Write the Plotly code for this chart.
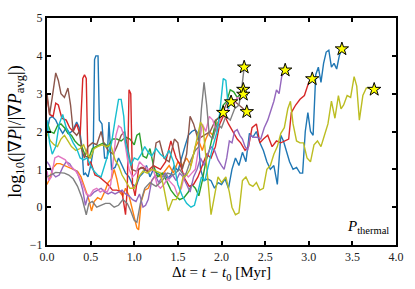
import plotly.graph_objects as go

# ---- data ----
t_blue = [0, .03, .06, .1, .14, .18, .22, .26, .3, .34, .37, .4, .42, .44, .47, .5, .53, .545, .56, .585, .6, .63, .66, .69, .71, .74, .78, .82, .86, .9, .94, .98, 1.02, 1.06, 1.1, 1.14, 1.18, 1.22, 1.26, 1.3, 1.34, 1.38, 1.42, 1.46, 1.5, 1.54, 1.58, 1.62, 1.66, 1.7, 1.73, 1.76, 1.8, 1.84, 1.88, 1.92, 1.96, 2.0, 2.04, 2.08, 2.12, 2.16, 2.2, 2.24, 2.28, 2.32, 2.36, 2.4, 2.44, 2.48, 2.52, 2.56, 2.6, 2.64, 2.68, 2.71, 2.74, 2.78, 2.82, 2.86, 2.9, 2.93, 2.96, 2.99, 3.02, 3.05, 3.08, 3.11, 3.14, 3.17, 3.2, 3.23, 3.26, 3.29, 3.32, 3.35, 3.38]
y_blue = [2.0, 2.35, 2.4, 2.3, 2.1, 1.95, 2.1, 1.95, 2.05, 2.25, 2.1, 1.6, 0.85, 0.9, 0.8, 1.1, 1.5, 3.9, 4.0, 4.0, 2.3, 2.2, 1.3, 1.3, 2.25, 1.0, 1.05, 1.3, 1.1, 0.9, 0.8, 0.6, 0.55, 0.8, 0.9, 1.1, 0.8, 1.0, 0.9, 0.85, 0.9, 0.75, 0.85, 1.1, 0.95, 1.3, 1.6, 1.9, 2.0, 2.05, 1.95, 1.0, 0.7, 0.75, 0.7, 0.5, 0.65, 0.6, 0.75, 0.5, 1.0, 1.3, 1.1, 1.45, 1.2, 1.95, 1.85, 2.0, 1.7, 1.5, 1.2, 1.0, 1.1, 0.6, 1.9, 1.75, 1.5, 1.2, 1.0, 1.05, 0.9, 0.9, 2.0, 2.5, 2.0, 1.9, 3.5, 3.7, 3.3, 3.8, 4.1, 4.15, 3.7, 3.8, 3.65, 4.0, 4.18]

t_orange = [0, .03, .07, .11, .15, .2, .25, .3, .35, .39, .42, .45, .48, .51, .54, .58, .62, .66, .7, .74, .77, .8, .83, .87, .9, .94, .97, 1.0, 1.03, 1.05, 1.08, 1.12, 1.16, 1.2, 1.25, 1.3, 1.35, 1.4, 1.45, 1.5, 1.55, 1.6, 1.65, 1.7, 1.74, 1.78, 1.82, 1.86, 1.9, 1.94, 1.98, 2.02]
y_orange = [0.6, 0.75, 1.05, 1.15, 1.15, 1.1, 1.05, 1.0, 0.95, 0.8, 0.6, 0.4, 0.2, -0.1, 0.15, 0.25, 0.2, 0.4, 0.65, 0.75, 1.0, 0.75, 0.4, 0.3, 0.5, 0.3, 0.0, -0.3, -0.55, -0.6, 0.15, 0.45, 0.5, 0.7, 0.85, 0.8, 0.95, 1.1, 0.9, 1.2, 1.1, 1.3, 1.1, 1.6, 1.75, 1.5, 1.8, 2.0, 1.9, 2.2, 2.3, 2.5]

t_green = [0, .04, .08, .12, .16, .2, .24, .28, .32, .36, .4, .44, .48, .52, .56, .6, .65, .7, .75, .8, .85, .9, .95, 1.0, 1.03, 1.06, 1.1, 1.14, 1.18, 1.22, 1.27, 1.32, 1.37, 1.42, 1.47, 1.52, 1.57, 1.62, 1.66, 1.7, 1.74, 1.78, 1.82, 1.86, 1.9, 1.94, 1.98, 2.02, 2.06, 2.1, 2.14, 2.18, 2.22, 2.25]
y_green = [2.25, 2.0, 1.95, 2.15, 2.2, 2.1, 1.95, 1.9, 1.75, 1.65, 1.6, 1.35, 1.3, 1.55, 1.6, 1.65, 1.7, 1.6, 1.8, 1.8, 1.75, 1.85, 1.8, 1.65, 1.9, 1.95, 1.35, 1.3, 1.55, 1.1, 0.8, 0.9, 0.7, 0.45, 0.3, 0.2, 0.25, 0.4, 0.6, 0.5, 0.3, 0.7, 1.2, 1.5, 1.9, 2.3, 2.4, 2.7, 2.8, 3.1, 3.05, 2.9, 3.0, 3.11]

t_red = [0, .03, .07, .1, .13, .17, .22, .26, .3, .34, .38, .41, .43, .45, .47, .5, .55, .6, .65, .7, .75, .8, .86, .9, .92, .94, .96, .98, 1.01, 1.05, 1.1, 1.15, 1.22, 1.3, 1.36, 1.42, 1.48, 1.53, 1.58, 1.63, 1.68, 1.73, 1.78, 1.83, 1.88, 1.93, 1.98, 2.03, 2.08, 2.13, 2.18, 2.22, 2.27, 2.31, 2.35, 2.4, 2.44, 2.48, 2.53, 2.58, 2.63, 2.68, 2.73, 2.77, 2.8, 2.85, 2.9, 2.95, 3.0, 3.04]
y_red = [2.9, 2.45, 2.4, 2.75, 2.7, 2.35, 2.3, 2.1, 2.0, 2.2, 1.9, 3.4, 3.5, 3.4, 1.1, 1.2, 0.85, 0.8, 0.7, 0.6, 0.45, 0.45, 0.4, -0.2, 0.5, 3.1, 3.0, 0.6, 0.3, 1.0, 1.05, 0.95, 1.1, 1.0, 1.2, 1.75, 1.3, 1.1, 0.75, 0.55, 0.6, 0.8, 1.1, 1.4, 1.3, 1.6, 2.2, 2.45, 2.2, 2.0, 1.8, 1.7, 1.5, 1.6, 2.1, 2.2, 1.7, 1.8, 1.9, 1.6, 1.75, 1.7, 1.75, 1.8, 2.5, 2.7, 2.85, 2.95, 3.3, 3.39]

t_purple = [0, .03, .06, .1, .14, .18, .22, .26, .3, .34, .38, .41, .44, .47, .5, .54, .58, .62, .66, .7, .74, .78, .82, .86, .9, .94, .98, 1.02, 1.06, 1.1, 1.13, 1.16, 1.2, 1.24, 1.28, 1.32, 1.36, 1.4, 1.44, 1.48, 1.52, 1.56, 1.6, 1.64, 1.68, 1.72, 1.76, 1.8, 1.84, 1.88, 1.92, 1.96, 2.0, 2.03, 2.06, 2.09, 2.12, 2.15, 2.18, 2.21, 2.24, 2.27, 2.3, 2.33, 2.37, 2.41, 2.45, 2.49, 2.53, 2.57, 2.6, 2.63, 2.66, 2.69, 2.73]
y_purple = [1.2, 1.1, 0.9, 0.8, 0.85, 1.05, 1.2, 1.15, 1.0, 0.95, 0.7, 0.45, 0.05, 0.3, 0.3, 0.4, 0.45, 0.5, 0.4, 0.35, 0.4, 0.35, 0.4, 0.45, 0.35, 0.3, 0.2, 0.15, 0.35, 0.0, 0.05, 0.2, 0.7, 0.85, 0.65, 0.8, 0.9, 0.75, 0.85, 0.7, 0.9, 0.8, 0.6, 0.4, 0.8, 1.0, 1.3, 1.1, 1.4, 1.6, 1.5, 1.25, 1.1, 1.0, 1.3, 1.75, 1.7, 2.0, 2.05, 1.9, 1.8, 1.6, 1.5, 1.9, 1.85, 1.85, 1.8, 2.1, 2.3, 2.6, 2.8, 3.1, 3.0, 3.45, 3.62]

t_brown = [0, .03, .06, .1, .13, .16, .2, .24, .27, .3, .34, .37, .4, .43, .47, .52, .57, .62, .65, .7, .76, .8, .85, .89, .93, .97, 1.02, 1.08, 1.15, 1.21, 1.25, 1.29, 1.34, 1.4, 1.46, 1.5, 1.55, 1.6, 1.64, 1.68, 1.73, 1.8, 1.87, 1.93, 2.0, 2.05, 2.1, 2.15, 2.2, 2.25, 2.29]
y_brown = [3.0, 2.45, 2.9, 3.55, 3.35, 3.0, 2.9, 3.15, 2.7, 2.0, 1.9, 2.0, 1.5, 1.3, 1.6, 1.7, 1.65, 2.0, 1.7, 1.5, 1.4, 1.6, 1.9, 2.0, 1.5, 1.0, 0.95, 1.05, 0.95, 1.0, 1.7, 1.75, 1.3, 1.2, 1.8, 1.7, 1.0, 1.4, 2.4, 2.2, 1.8, 1.9, 2.0, 2.3, 2.4, 2.7, 2.9, 2.8, 2.7, 2.6, 2.52]

t_pink = [0, .02, .05, .09, .13, .17, .21, .25, .29, .33, .37, .41, .45, .49, .53, .57, .61, .65, .69, .73, .76, .79, .82, .85, .88, .91, .94, .98, 1.02, 1.06, 1.1, 1.14, 1.18, 1.22, 1.26, 1.3, 1.34, 1.38, 1.42, 1.46, 1.5, 1.54, 1.58, 1.62, 1.66, 1.7, 1.74, 1.78, 1.82, 1.86, 1.9, 1.94, 1.98, 2.02, 2.06, 2.1, 2.14, 2.18, 2.22, 2.25]
y_pink = [0.95, 0.7, 0.8, 1.3, 1.35, 1.3, 1.25, 1.1, 1.05, 0.95, 0.8, 0.6, 0.35, 0.3, 0.45, 0.5, 0.4, 0.45, 0.4, 0.6, 1.2, 1.9, 2.15, 2.1, 1.9, 1.4, 1.0, 0.8, 0.9, 1.2, 1.1, 1.05, 0.95, 1.0, 0.6, 0.5, 0.6, 0.75, 0.65, 0.55, 0.3, 0.5, 0.9, 0.8, 0.9, 1.0, 1.6, 2.2, 2.0, 2.4, 2.3, 2.0, 2.3, 2.6, 2.5, 2.8, 2.7, 2.9, 2.85, 2.98]

t_gray = [0, .05, .1, .2, .25, .3, .35, .4, .43, .45, .48, .52, .57, .62, .67, .72, .77, .82, .87, .92, .96, 1.0, 1.03, 1.07, 1.12, 1.18, 1.25, 1.32, 1.38, 1.45, 1.52, 1.58, 1.64, 1.7, 1.74, 1.77, 1.8, 1.83, 1.86, 1.9, 1.95, 2.0, 2.05, 2.1, 2.15, 2.2, 2.23, 2.26]
y_gray = [0.8, 0.85, 0.92, 0.9, 0.85, 0.75, 0.55, 0.25, 0.0, -0.2, 0.1, 0.15, 0.0, 0.05, 0.1, 0.1, 0.0, 0.05, 0.2, 0.1, -0.1, -0.35, -0.4, 0.1, 0.5, 0.65, 0.55, 0.7, 0.9, 0.85, 1.0, 0.8, 1.2, 1.5, 1.6, 2.6, 3.3, 2.7, 1.9, 1.8, 2.2, 2.1, 2.4, 2.3, 2.6, 2.7, 3.1, 3.7]

t_olive = [0, .04, .08, .12, .16, .2, .24, .28, .33, .38, .42, .46, .5, .54, .58, .63, .68, .73, .78, .82, .86, .9, .95, 1.0, 1.05, 1.1, 1.15, 1.2, 1.25, 1.3, 1.34, 1.39, 1.44, 1.48, 1.52, 1.56, 1.6, 1.64, 1.68, 1.72, 1.76, 1.79, 1.82, 1.85, 1.88, 1.92, 1.96, 2.0, 2.05, 2.09, 2.12, 2.16, 2.2, 2.24, 2.28, 2.32, 2.36, 2.4, 2.44, 2.48, 2.52, 2.56, 2.6, 2.64, 2.68, 2.72, 2.76, 2.79, 2.82, 2.86, 2.9, 2.94, 2.98, 3.02, 3.06, 3.1, 3.14, 3.18, 3.22, 3.26, 3.3, 3.34, 3.37, 3.4, 3.44, 3.48, 3.52, 3.55, 3.58, 3.62, 3.66, 3.7, 3.75]
y_olive = [1.95, 1.75, 1.65, 1.6, 1.8, 1.9, 1.75, 1.6, 1.5, 1.55, 1.65, 1.4, 1.3, 1.55, 1.6, 1.65, 1.6, 1.65, 1.25, 1.1, 0.85, 0.7, 0.5, 0.5, 0.8, 0.95, 0.9, 1.0, 0.95, 0.9, 0.5, -0.1, 0.2, 0.2, 0.4, 0.8, 0.85, 1.0, 1.4, 1.8, 2.25, 2.1, 1.3, 0.4, -0.2, 0.3, 0.8, 0.65, 0.8, 0.4, 0.0, -0.2, -0.15, 0.7, 0.8, 0.6, 0.55, 0.65, 0.45, 0.5, 1.0, 1.1, 1.4, 1.6, 1.95, 2.1, 2.6, 2.8, 2.2, 1.75, 1.7, 1.7, 1.3, 1.2, 1.65, 1.75, 1.6, 1.9, 2.2, 2.8, 2.35, 2.95, 2.6, 2.7, 2.95, 2.9, 3.45, 3.2, 2.3, 2.95, 3.15, 3.15, 3.11]

t_cyan = [0, .03, .06, .1, .14, .18, .22, .26, .3, .34, .38, .42, .46, .5, .54, .58, .62, .66, .7, .74, .78, .82, .85, .88, .9, .93, .96, 1.0, 1.04, 1.08, 1.12, 1.16, 1.2, 1.25, 1.3, 1.35, 1.4, 1.45, 1.5, 1.55, 1.6, 1.65, 1.69, 1.73, 1.77, 1.81, 1.85, 1.9, 1.95, 1.98, 2.02, 2.05, 2.08, 2.1, 2.11]
y_cyan = [2.3, 1.7, 1.4, 1.6, 2.2, 2.45, 2.1, 1.9, 1.7, 1.55, 1.3, 1.25, 1.3, 1.1, 0.95, 0.85, 0.8, 1.1, 1.4, 1.7, 2.3, 2.85, 2.85, 2.4, 1.7, 1.35, 1.1, 1.3, 1.25, 1.4, 1.6, 1.45, 1.35, 1.55, 1.4, 1.3, 1.5, 1.2, 0.6, 0.3, 0.1, 0.0, 0.05, 0.4, 0.8, 0.7, 1.1, 1.6, 2.0, 2.5, 3.4, 3.35, 2.6, 2.9, 2.78]

series = [
    (t_blue, y_blue, "#1f77b4"),
    (t_orange, y_orange, "#ff7f0e"),
    (t_green, y_green, "#2ca02c"),
    (t_red, y_red, "#d62728"),
    (t_purple, y_purple, "#9467bd"),
    (t_brown, y_brown, "#8c564b"),
    (t_pink, y_pink, "#e377c2"),
    (t_gray, y_gray, "#7f7f7f"),
    (t_olive, y_olive, "#bcbd22"),
    (t_cyan, y_cyan, "#17becf"),
]

x_ticks = [0.0, 0.5, 1.0, 1.5, 2.0, 2.5, 3.0, 3.5, 4.0]
y_ticks = [-1, 0, 1, 2, 3, 4, 5]

fig = go.Figure()
for t, y, c in series:
    fig.add_trace(go.Scatter(x=t, y=y, mode="lines",
                             line=dict(color=c, width=1.4), showlegend=False,
                             hoverinfo="skip"))
fig.add_trace(go.Scatter(
    x=[s[0][-1] for s in series], y=[s[1][-1] for s in series],
    mode="markers", showlegend=False, cliponaxis=False, hoverinfo="skip",
    marker=dict(symbol="star", size=10, color="yellow",
                line=dict(color="black", width=1))))

serif = "Liberation Serif, DejaVu Serif, serif"
axis_common = dict(showline=True, linecolor="black", linewidth=2, mirror="allticks",
                   ticks="inside", ticklen=4, tickwidth=1.5, tickcolor="black",
                   showgrid=False, zeroline=False,
                   tickfont=dict(family=serif, size=12, color="#222"))
fig.update_xaxes(range=[0, 4], tickvals=x_ticks, tickformat=".1f",
                 title=dict(text="Δ<i>t</i> = <i>t</i> − <i>t</i><sub>0</sub> [Myr]",
                            font=dict(family=serif, size=15, color="black"), standoff=3),
                 **axis_common)
fig.update_yaxes(range=[-1, 5], tickvals=y_ticks,
                 title=dict(text="log<sub>10</sub>(|∇<i>P</i>|/|∇<i>P</i><sub>avg</sub>|)",
                            font=dict(family=serif, size=18, color="black"), standoff=4),
                 **axis_common)
fig.add_annotation(x=0.985, y=0.03, xref="paper", yref="paper", xanchor="right",
                   yanchor="bottom", showarrow=False,
                   text="<i>P</i><sub>thermal</sub>",
                   font=dict(family=serif, size=15, color="black"))
fig.update_layout(width=415, height=289, margin=dict(l=47, r=14, t=11, b=43),
                  plot_bgcolor="white", paper_bgcolor="white", hovermode=False)
# remove the default page margin so the figure fills the 415x289 window exactly
fig.write_html("out.html", config={"displayModeBar": False},
               post_script="document.body.style.margin='0';document.body.style.overflow='hidden';")
